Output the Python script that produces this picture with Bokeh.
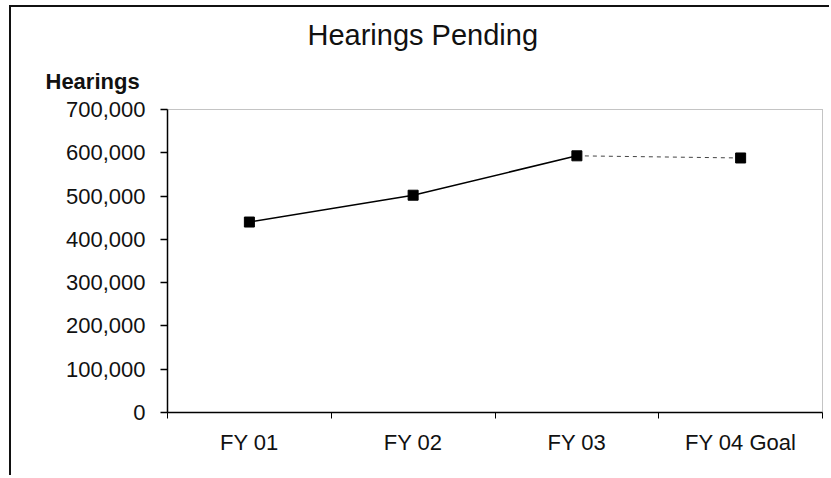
from bokeh.plotting import figure
from bokeh.models import FixedTicker, NumeralTickFormatter, Title, Range1d
from bokeh.embed import file_html
from bokeh.resources import INLINE

categories = ["FY 01", "FY 02", "FY 03", "FY 04 Goal"]
actual_values = [440000, 502000, 593000]
goal_values = [593000, 588000]
y_ticks = [0, 100000, 200000, 300000, 400000, 500000, 600000, 700000]

FONT = "Liberation Sans"

x_pos = [i + 0.5 for i in range(len(categories))]

p = figure(width=820, height=470, output_backend="svg", toolbar_location=None,
           x_range=Range1d(0, len(categories)), y_range=Range1d(0, 700000),
           min_border_left=156, min_border_right=9, min_border_top=102, min_border_bottom=65)
p.margin = (5, 0, 0, 9)
p.styles = {"border-left": "2px solid #111", "border-top": "2px solid #111"}
p.background_fill_color = "white"
p.border_fill_color = "white"
p.xgrid.visible = False
p.ygrid.visible = False
p.outline_line_color = "#888888"
p.outline_line_dash = "1 1"
p.outline_line_width = 1

# actual line (solid) and goal line (dashed)
p.line(x_pos[:3], actual_values, line_color="black", line_width=1.5)
p.line(x_pos[2:], goal_values, line_color="#444444", line_width=1, line_dash="4 4")
all_vals = actual_values + goal_values[1:]
p.scatter(x_pos, all_vals, marker="square", size=10, fill_color="black", line_color="black")

# x axis: labels at category centers, ticks at boundaries
xa = p.xaxis[0]
xa.ticker = FixedTicker(ticks=x_pos, minor_ticks=list(range(len(categories) + 1)))
xa.major_label_overrides = {x: c for x, c in zip(x_pos, categories)}
xa.major_tick_line_color = None
xa.major_tick_out = 0
xa.major_tick_in = 0
xa.minor_tick_line_color = "black"
xa.minor_tick_out = 6
xa.minor_tick_in = 0
xa.axis_line_color = "black"
xa.axis_line_width = 1.5
xa.major_label_text_font = FONT
xa.major_label_text_font_size = "22px"
xa.major_label_text_color = "#111111"
xa.major_label_standoff = 11

ya = p.yaxis[0]
ya.ticker = FixedTicker(ticks=y_ticks, minor_ticks=[])
ya.formatter = NumeralTickFormatter(format="0,0")
ya.major_tick_out = 7
ya.major_tick_in = 0
ya.major_tick_line_color = "black"
ya.major_tick_line_width = 1.5
ya.axis_line_color = "black"
ya.axis_line_width = 1.5
ya.major_label_text_font = FONT
ya.major_label_text_font_size = "22px"
ya.major_label_text_color = "#111111"
ya.major_label_standoff = 15

ylab = Title(text="Hearings", align="left", offset=-122, standoff=32,
             text_font=FONT, text_font_size="22px", text_font_style="bold",
             text_color="#111111")
main_title = Title(text="Hearings Pending", align="left", offset=140, standoff=0,
                   text_font=FONT, text_font_size="29px", text_font_style="normal",
                   text_color="#111111")
p.add_layout(ylab, "above")
p.add_layout(main_title, "above")

open("out.html", "w").write(file_html(p, INLINE))
